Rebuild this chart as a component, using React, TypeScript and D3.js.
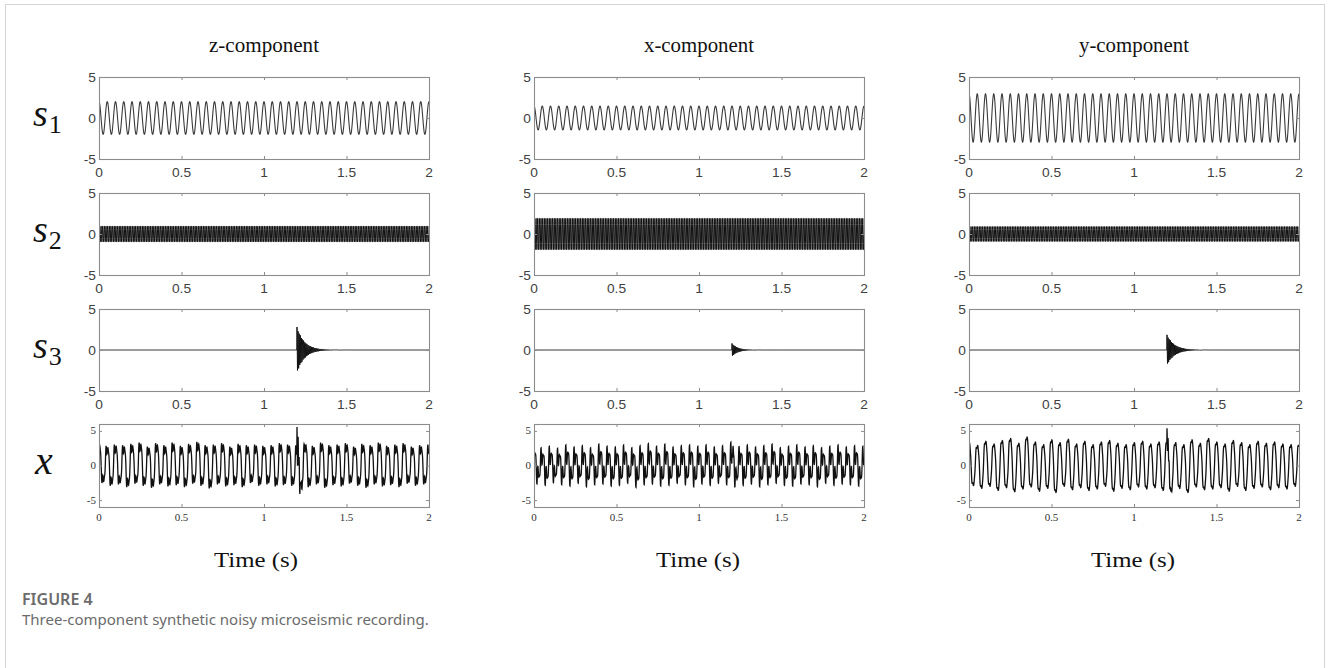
import React, { useEffect, useRef } from "react";
import * as d3 from "d3";

// column titles and row labels
const components = ["z-component", "x-component", "y-component"];
const rowSubscripts = ["1", "2", "3"];
const xTicks = [0, 0.5, 1, 1.5, 2];
const xTickLabels = ["0", "0.5", "1", "1.5", "2"];
const yTicks = [-5, 0, 5];
const yTickLabels = ["-5", "0", "5"];

// s1: harmonic signal (z, x, y)
const s1Amp = [2.0, 1.45, 2.95];
const s1Freq = [20, 20, 20];
// s2: high-frequency harmonic
const s2Amp = [1.0, 2.0, 0.95];
const s2Freq = [100, 100, 100];
// s3: decaying microseismic event
const s3Amp = [2.8, 0.8, 1.85];
const s3Onset = [1.2, 1.2, 1.2];
const s3Tau = [0.045, 0.035, 0.045];
const s3Freq = [150, 150, 150];

// x (noisy recording): peak / trough of every 20 Hz cycle
const zPeaks = [3.3, 2.9, 3.1, 3.0, 3.2, 3.4, 2.8, 3.3, 3.0, 3.4, 2.9, 3.2, 3.5, 3.0, 3.1, 3.3, 2.8, 3.2, 3.0, 3.1, 2.9, 3.0, 3.3, 3.1, 3.0, 3.3, 2.9, 3.4, 3.0, 3.1, 3.3, 2.8, 3.2, 3.0, 3.4, 2.9, 3.1, 3.3, 2.8, 3.0, 3.1];
const zTroughs = [-2.6, -3.0, -2.8, -3.2, -2.7, -3.0, -3.3, -2.8, -3.1, -2.9, -3.2, -2.7, -3.0, -3.4, -2.8, -3.1, -2.9, -3.2, -2.6, -3.0, -2.8, -3.1, -2.9, -3.0, -3.6, -3.2, -2.8, -3.3, -2.9, -3.1, -2.7, -3.0, -3.3, -2.8, -3.1, -2.9, -3.2, -2.7, -3.0, -2.8, -2.9];
const xPeaks = [2.9, 2.6, 2.8, 2.5, 3.0, 2.7, 2.9, 2.6, 3.1, 2.8, 2.7, 3.0, 2.6, 2.9, 3.2, 2.8, 3.1, 2.7, 2.9, 3.0, 2.8, 3.0, 2.7, 2.9, 3.4, 2.8, 3.0, 2.7, 2.9, 3.1, 2.6, 2.8, 3.0, 2.7, 2.9, 2.6, 2.8, 3.0, 2.7, 2.9, 2.8];
const xTroughs = [-2.7, -2.9, -2.5, -2.8, -3.0, -2.6, -3.1, -2.8, -2.7, -3.0, -2.9, -2.6, -3.2, -2.8, -2.7, -3.0, -2.9, -2.6, -2.8, -3.1, -2.7, -2.9, -2.6, -2.8, -3.0, -2.9, -2.7, -3.1, -2.8, -2.6, -2.9, -3.0, -2.7, -2.8, -3.1, -2.6, -2.9, -2.7, -2.8, -3.0, -2.7];
const yPeaks = [3.3, 2.9, 3.5, 3.1, 3.6, 3.9, 3.2, 4.1, 3.4, 3.0, 3.7, 3.3, 3.8, 3.1, 3.5, 3.0, 3.4, 3.6, 3.2, 3.0, 3.3, 3.5, 3.1, 3.4, 3.6, 3.3, 3.0, 3.7, 3.2, 3.9, 3.4, 3.1, 3.6, 3.3, 3.0, 3.5, 3.2, 3.4, 3.1, 3.0, 3.2];
const yTroughs = [-2.9, -3.3, -3.0, -3.6, -3.2, -3.8, -3.4, -3.1, -3.7, -3.3, -3.9, -3.0, -3.5, -3.2, -3.6, -3.4, -3.0, -3.7, -3.3, -3.5, -3.1, -3.4, -3.2, -3.6, -3.8, -3.3, -3.9, -3.1, -3.5, -3.4, -3.2, -3.7, -3.0, -3.6, -3.3, -3.1, -3.5, -3.2, -3.4, -3.0, -3.3];
const xHarmonic = [0.3, 0.75, 0.12];
const xHighFreq = [0.4, 0.6, 0.2];
const xSpike = [3.6, 1.0, 2.0];
const xSpikeTau = [0.012, 0.012, 0.012];

const peaksByComp = [zPeaks, xPeaks, yPeaks];
const troughsByComp = [zTroughs, xTroughs, yTroughs];

const W = 1330;
const H = 668;
const colX = [99, 534, 969];
const colW = 330;
const rowY = [77, 193, 309, 424];
const rowH = [82, 82, 82, 83];
const timeLabelX = [256, 698, 1133];
const DT = 0.001;

const times = d3.range(0, 2 + DT / 2, DT);

function s1(c: number, t: number) {
  return s1Amp[c] * Math.cos(2 * Math.PI * s1Freq[c] * t);
}
function s2(c: number, t: number) {
  return s2Amp[c] * Math.sin(2 * Math.PI * s2Freq[c] * t);
}
function s3(c: number, t: number, amp: number, tau: number) {
  if (t < s3Onset[c]) return 0;
  const u = t - s3Onset[c];
  return amp * Math.exp(-u / tau) * Math.cos(2 * Math.PI * s3Freq[c] * u);
}
function recording(c: number, t: number, m: number) {
  const a = xHarmonic[c];
  const th = 2 * Math.PI * s1Freq[c] * t + Math.PI / 2;
  const base = Math.sin(th) + a * Math.sin(3 * th);
  const k = Math.min(Math.floor(th / (2 * Math.PI)), 40);
  const pk = peaksByComp[c][k] - xHighFreq[c];
  const tr = troughsByComp[c][k] + xHighFreq[c];
  const v = base >= 0 ? (base / m) * pk : (base / m) * -tr;
  const hf = (xHighFreq[c] / s2Amp[c]) * s2(c, t);
  return v + hf + s3(c, t, xSpike[c], xSpikeTau[c]);
}

const App = () => {
  const ref = useRef<SVGSVGElement>(null);

  useEffect(() => {
    const svg = d3.select(ref.current);
    svg.selectAll("*").remove();

    // outer figure frame
    svg
      .append("rect")
      .attr("x", 5.5)
      .attr("y", 4.5)
      .attr("width", 1319)
      .attr("height", 700)
      .attr("fill", "none")
      .attr("stroke", "#d4d4d4");

    const sx = 1.1;
    const txt = (g: any, x: number, y: number, s: string, size: number, family: string, anchor = "middle", fill = "#404040") =>
      g
        .append("text")
        .attr("transform", `translate(${x},${y}) scale(${sx},1)`)
        .attr("text-anchor", anchor)
        .attr("font-family", family)
        .attr("font-size", size)
        .attr("fill", fill)
        .text(s);

    const serif = "'Liberation Serif', 'Times New Roman', serif";
    const sans = "'Liberation Sans', Arial, sans-serif";

    components.forEach((name, c) => {
      const cx = colX[c] + colW / 2;
      svg
        .append("text")
        .attr("x", cx)
        .attr("y", 52)
        .attr("text-anchor", "middle")
        .attr("font-family", serif)
        .attr("font-size", 20)
        .attr("textLength", 110)
        .attr("lengthAdjust", "spacingAndGlyphs")
        .attr("fill", "#111")
        .text(name);

      svg
        .append("text")
        .attr("x", timeLabelX[c])
        .attr("y", 567)
        .attr("text-anchor", "middle")
        .attr("font-family", serif)
        .attr("font-size", 20)
        .attr("textLength", 84)
        .attr("lengthAdjust", "spacingAndGlyphs")
        .attr("fill", "#111")
        .text("Time (s)");

      for (let r = 0; r < 4; r++) {
        const last = r === 3;
        const x = d3.scaleLinear().domain([0, 2]).range([colX[c], colX[c] + colW]);
        const y = d3
          .scaleLinear()
          .domain(last ? [-6, 6] : [-5, 5])
          .range([rowY[r] + rowH[r], rowY[r]]);
        const g = svg.append("g");
        const clipId = `clip-${r}-${c}`;
        g.append("clipPath")
          .attr("id", clipId)
          .append("rect")
          .attr("x", colX[c])
          .attr("y", rowY[r])
          .attr("width", colW)
          .attr("height", rowH[r]);

        const a = xHarmonic[c];
        const m = d3.max(d3.range(0, Math.PI, 0.005), (v) => Math.sin(v) + a * Math.sin(3 * v)) as number;

        let fn: (t: number) => number;
        if (r === 0) fn = (t) => s1(c, t);
        else if (r === 1) fn = (t) => s2(c, t);
        else if (r === 2) fn = (t) => s3(c, t, s3Amp[c], s3Tau[c]);
        else fn = (t) => recording(c, t, m);

        const line = d3
          .line<number>()
          .x((t) => x(t))
          .y((t) => y(fn(t)));
        g.append("path")
          .datum(times)
          .attr("clip-path", `url(#${clipId})`)
          .attr("fill", "none")
          .attr("stroke", r === 0 ? "#3a3a3a" : "#111")
          .attr("stroke-width", r === 0 ? 1.1 : last ? 1.3 : 1)
          .attr("d", line);

        // box
        g.append("rect")
          .attr("x", colX[c] + 0.5)
          .attr("y", rowY[r] + 0.5)
          .attr("width", colW)
          .attr("height", rowH[r])
          .attr("fill", "none")
          .attr("stroke", "#8c8c8c")
          .attr("stroke-width", 1.1);

        // inner ticks
        xTicks.slice(1, -1).forEach((v) => {
          g.append("line")
            .attr("x1", x(v) + 0.5)
            .attr("x2", x(v) + 0.5)
            .attr("y1", rowY[r])
            .attr("y2", rowY[r] + 3)
            .attr("stroke", "#8c8c8c");
          g.append("line")
            .attr("x1", x(v) + 0.5)
            .attr("x2", x(v) + 0.5)
            .attr("y1", rowY[r] + rowH[r])
            .attr("y2", rowY[r] + rowH[r] - 3)
            .attr("stroke", "#8c8c8c");
        });
        yTicks.forEach((v) => {
          g.append("line")
            .attr("x1", colX[c])
            .attr("x2", colX[c] + 3)
            .attr("y1", y(v) + 0.5)
            .attr("y2", y(v) + 0.5)
            .attr("stroke", "#8c8c8c");
          g.append("line")
            .attr("x1", colX[c] + colW)
            .attr("x2", colX[c] + colW - 3)
            .attr("y1", y(v) + 0.5)
            .attr("y2", y(v) + 0.5)
            .attr("stroke", "#8c8c8c");
        });

        // tick labels
        if (last) {
          yTicks.forEach((v, i) => txt(g, colX[c] - 3, y(v) + 3.5, yTickLabels[i], 10, serif, "end", "#333"));
          xTicks.forEach((v, i) => txt(g, x(v), rowY[r] + rowH[r] + 14, xTickLabels[i], 10, serif, "middle", "#333"));
        } else {
          yTicks.forEach((v, i) => txt(g, colX[c] - 3, y(v) + 4.5, yTickLabels[i], 12.5, sans, "end"));
          xTicks.forEach((v, i) => txt(g, x(v), rowY[r] + rowH[r] + 18, xTickLabels[i], 12.5, sans, "middle"));
        }

        // row labels
        if (c === 0) {
          const zeroY = y(0);
          const lab = g
            .append("text")
            .attr("x", 33)
            .attr("y", zeroY + 8)
            .attr("font-family", "'Liberation Serif', 'DejaVu Serif', serif")
            .attr("fill", "#111");
          if (last) {
            lab.attr("font-style", "italic").attr("font-size", 40).attr("x", 35).text("x");
          } else {
            lab.append("tspan").attr("font-style", "italic").attr("font-size", 38).text("s");
            lab.append("tspan").attr("font-size", 26).attr("dy", 7).attr("dx", 1).text(rowSubscripts[r]);
          }
        }
      }
    });

    // caption
    svg
      .append("text")
      .attr("x", 22)
      .attr("y", 605)
      .attr("font-family", "'Noto Sans', 'Open Sans', sans-serif")
      .attr("font-weight", 600)
      .attr("font-size", 16)
      .attr("fill", "#6b6b6b")
      .text("FIGURE 4");
    svg
      .append("text")
      .attr("x", 22)
      .attr("y", 625)
      .attr("font-family", "'Noto Sans', 'Open Sans', sans-serif")
      .attr("font-size", 15)
      .attr("fill", "#6b6b6b")
      .text("Three-component synthetic noisy microseismic recording.");
  }, []);

  return (
    <svg
      ref={ref}
      width={W}
      height={H}
      style={{ position: "absolute", left: 0, top: 0, background: "#fff" }}
    />
  );
};

export default App;
